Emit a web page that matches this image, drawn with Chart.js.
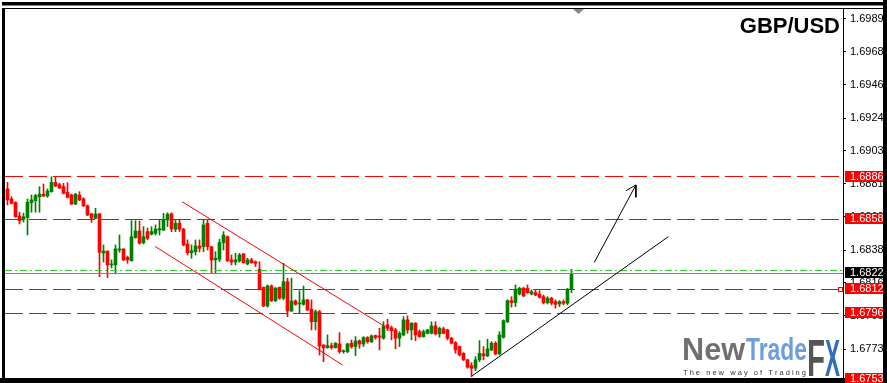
<!DOCTYPE html>
<html><head><meta charset="utf-8">
<script src="https://cdn.jsdelivr.net/npm/chart.js@4.4.1/dist/chart.umd.min.js"></script>
<style>html,body{margin:0;padding:0;background:#fff;overflow:hidden}</style>
</head><body>
<canvas id="c" width="887" height="383"></canvas>
<script>
const symbol = 'GBP/USD';
const opens = [1.68781,1.68715,1.68693,1.68604,1.68582,1.68593,1.68691,1.68704,1.68730,1.68746,
1.68735,1.68763,1.68822,1.68809,1.68796,1.68759,1.68741,1.68682,1.68741,1.68715,
1.68671,1.68617,1.68589,1.68617,1.68361,1.68374,1.68283,1.68283,1.68381,1.68388,
1.68333,1.68311,1.68462,1.68505,1.68429,1.68501,1.68484,1.68490,1.68512,1.68512,
1.68578,1.68617,1.68517,1.68556,1.68517,1.68420,1.68363,1.68370,1.68407,1.68403,
1.68556,1.68403,1.68316,1.68320,1.68429,1.68468,1.68316,1.68302,1.68309,1.68355,
1.68289,1.68316,1.68304,1.68255,1.68137,1.68014,1.68145,1.68049,1.68137,1.68065,
1.68173,1.67981,1.68047,1.68027,1.68025,1.68054,1.67993,1.67911,1.67977,1.67759,
1.67741,1.67754,1.67741,1.67765,1.67715,1.67715,1.67770,1.67748,1.67785,1.67765,
1.67807,1.67780,1.67820,1.67818,1.67803,1.67890,1.67872,1.67857,1.67803,1.67824,
1.67923,1.67857,1.67901,1.67846,1.67813,1.67835,1.67835,1.67883,1.67831,1.67864,
1.67857,1.67803,1.67774,1.67748,1.67704,1.67661,1.67623,1.67606,1.67661,1.67700,
1.67687,1.67726,1.67770,1.67700,1.67809,1.67911,1.68049,1.68036,1.68093,1.68130,
1.68130,1.68093,1.68101,1.68091,1.68075,1.68036,1.68065,1.68042,1.68027,1.68042,
1.68032,1.68124];
const highs = [1.68824,1.68730,1.68697,1.68628,1.68623,1.68715,1.68741,1.68746,1.68796,1.68813,
1.68781,1.68861,1.68861,1.68818,1.68818,1.68822,1.68748,1.68752,1.68763,1.68724,
1.68676,1.68621,1.68654,1.68621,1.68414,1.68374,1.68316,1.68414,1.68479,1.68388,
1.68342,1.68573,1.68573,1.68571,1.68534,1.68525,1.68534,1.68545,1.68578,1.68621,
1.68625,1.68625,1.68582,1.68582,1.68523,1.68447,1.68414,1.68447,1.68447,1.68578,
1.68578,1.68403,1.68370,1.68451,1.68501,1.68473,1.68348,1.68359,1.68359,1.68359,
1.68327,1.68327,1.68309,1.68304,1.68137,1.68152,1.68152,1.68137,1.68137,1.68294,
1.68196,1.68196,1.68054,1.68114,1.68145,1.68058,1.68054,1.67988,1.67985,1.67759,
1.67824,1.67770,1.67774,1.67839,1.67726,1.67770,1.67792,1.67813,1.67792,1.67813,
1.67813,1.67824,1.67824,1.67868,1.67911,1.67927,1.67883,1.67868,1.67846,1.67944,
1.67949,1.67905,1.67905,1.67857,1.67857,1.67862,1.67911,1.67911,1.67875,1.67875,
1.67862,1.67809,1.67780,1.67752,1.67708,1.67665,1.67643,1.67682,1.67787,1.67748,
1.67796,1.67780,1.67780,1.67846,1.67923,1.68054,1.68075,1.68152,1.68137,1.68137,
1.68152,1.68119,1.68119,1.68114,1.68086,1.68075,1.68071,1.68054,1.68049,1.68054,
1.68130,1.68255];
const lows = [1.68676,1.68682,1.68595,1.68551,1.68564,1.68479,1.68628,1.68628,1.68628,1.68730,
1.68726,1.68759,1.68796,1.68783,1.68748,1.68722,1.68678,1.68678,1.68704,1.68665,
1.68606,1.68562,1.68584,1.68206,1.68302,1.68200,1.68263,1.68224,1.68366,1.68311,
1.68294,1.68307,1.68458,1.68420,1.68420,1.68447,1.68479,1.68479,1.68479,1.68507,
1.68534,1.68501,1.68501,1.68501,1.68407,1.68348,1.68327,1.68348,1.68368,1.68370,
1.68381,1.68228,1.68224,1.68304,1.68381,1.68304,1.68283,1.68283,1.68300,1.68294,
1.68283,1.68294,1.68272,1.68119,1.68010,1.68006,1.68042,1.68042,1.68058,1.68054,
1.67944,1.67977,1.68019,1.67966,1.68019,1.67983,1.67857,1.67857,1.67693,1.67649,
1.67737,1.67731,1.67737,1.67704,1.67704,1.67708,1.67737,1.67689,1.67737,1.67748,
1.67770,1.67774,1.67796,1.67726,1.67796,1.67852,1.67792,1.67733,1.67748,1.67818,
1.67835,1.67792,1.67787,1.67809,1.67809,1.67831,1.67831,1.67824,1.67809,1.67831,
1.67792,1.67765,1.67704,1.67687,1.67656,1.67606,1.67551,1.67590,1.67649,1.67661,
1.67682,1.67721,1.67693,1.67693,1.67803,1.67905,1.68006,1.68010,1.68086,1.68075,
1.68097,1.68086,1.68080,1.68065,1.68027,1.68027,1.68021,1.67999,1.68010,1.68021,
1.68021,1.68101];
const closes = [1.68709,1.68687,1.68599,1.68573,1.68599,1.68693,1.68709,1.68737,1.68746,1.68735,
1.68767,1.68824,1.68800,1.68787,1.68752,1.68726,1.68682,1.68746,1.68709,1.68671,
1.68610,1.68589,1.68617,1.68366,1.68374,1.68283,1.68287,1.68388,1.68388,1.68316,
1.68316,1.68468,1.68505,1.68425,1.68468,1.68458,1.68501,1.68517,1.68521,1.68578,
1.68615,1.68519,1.68556,1.68517,1.68414,1.68363,1.68376,1.68407,1.68392,1.68545,
1.68403,1.68316,1.68327,1.68429,1.68479,1.68311,1.68302,1.68316,1.68348,1.68298,
1.68316,1.68298,1.68294,1.68124,1.68014,1.68145,1.68049,1.68130,1.68065,1.68173,
1.67981,1.68047,1.68025,1.68032,1.68054,1.67988,1.67911,1.67977,1.67752,1.67741,
1.67754,1.67741,1.67770,1.67715,1.67721,1.67765,1.67748,1.67785,1.67765,1.67807,
1.67780,1.67818,1.67807,1.67809,1.67883,1.67868,1.67852,1.67803,1.67835,1.67923,
1.67857,1.67901,1.67824,1.67813,1.67846,1.67857,1.67883,1.67831,1.67868,1.67835,
1.67803,1.67770,1.67726,1.67693,1.67661,1.67613,1.67606,1.67661,1.67704,1.67687,
1.67733,1.67770,1.67700,1.67824,1.67918,1.68049,1.68036,1.68124,1.68130,1.68080,
1.68101,1.68108,1.68086,1.68071,1.68036,1.68065,1.68032,1.68025,1.68042,1.68032,
1.68124,1.68228];
const tickValues = [1.69895,1.69680,1.69465,1.69245,1.69030,1.68815,1.68600,1.68380,1.68165,1.67950,1.67730];
const levels = [1.68861,1.68583,1.68125,1.67966,1.67535];
const markedLevel = 1.68125;
const bidPrice = 1.68228;
const askPrice = 1.68245;
const channelUpper = [[43.6,1.68698],[94.4,1.67878]];
const channelLower = [[36.9,1.68404],[83.8,1.67627]];
const trendLine = [[116.1,1.67555],[165.2,1.68468]];
const arrowShaft = [[146.7,1.68300],[157.1,1.68807]];
const arrowHead = [[154.6,1.68769],[157.1,1.68807],[157.1,1.68726]];

const X_MIN = -0.625, X_MAX = 208.875;
const Y_MIN = 1.67542, Y_MAX = 1.69960;
const GREEN = '#008000', RED = '#ff0000';

const idx = opens.map((_, i) => i);
const colors = idx.map(i => closes[i] > opens[i] ? GREEN : RED);
const pts = a => a.map(p => ({x: p[0], y: p[1]}));
const hline = v => [{x: X_MIN, y: v}, {x: X_MAX, y: v}];
const lineDs = (data, color, dash, snap) => ({
  type: 'line', data, borderColor: color, borderWidth: 1, borderDash: dash || [],
  pointRadius: 0, fill: false, tension: 0, snap: !!snap
});

const datasets = [
  lineDs(pts(arrowShaft), '#000'),
  lineDs(pts(arrowHead), '#000'),
  lineDs(pts(trendLine), '#000'),
  lineDs(pts(channelUpper), RED),
  lineDs(pts(channelLower), RED),
  ...levels.map(v => lineDs(hline(v), RED, [18, 6], true)),
  lineDs(hline(askPrice), '#33cc33', [7, 3, 2, 3], true),
  lineDs(hline(bidPrice), '#778899', null, true),
  {
    type: 'bar', data: idx.map(i => ({x: i, y: [opens[i], closes[i]]})),
    backgroundColor: colors, barThickness: 3, grouped: false, minBarLength: 1, borderWidth: 0
  },
  {
    type: 'bar', data: idx.map(i => ({x: i, y: [lows[i], highs[i]]})),
    backgroundColor: colors, barThickness: 1, grouped: false, minBarLength: 1, borderWidth: 0
  }
];

function drawScaled(ctx, text, x, base, font, targetW, fill) {
  ctx.font = font;
  const w = ctx.measureText(text).width;
  ctx.save();
  ctx.translate(x, base);
  ctx.scale(targetW / w, 1);
  ctx.fillStyle = fill;
  ctx.textAlign = 'left';
  ctx.textBaseline = 'alphabetic';
  ctx.fillText(text, 0, 0);
  ctx.restore();
}

const snapPlugin = {
  id: 'snap',
  afterDatasetsUpdate(chart) {
    chart.data.datasets.forEach((ds, i) => {
      if (!ds.snap) return;
      chart.getDatasetMeta(i).data.forEach(el => { el.y = Math.floor(el.y) + 0.5; });
    });
  }
};

const decor = {
  id: 'decor',
  beforeDraw(chart) {
    const c = chart.ctx;
    c.save(); c.fillStyle = '#fff'; c.fillRect(0, 0, chart.width, chart.height); c.restore();
  },
  afterDraw(chart) {
    const ctx = chart.ctx, ys = chart.scales.y;
    ctx.save();
    ctx.fillStyle = '#000';
    ctx.fillRect(2, 2, 885, 3);
    ctx.fillStyle = '#808080';
    ctx.fillRect(2, 5, 885, 1);
    ctx.fillStyle = '#000';
    ctx.fillRect(2, 8, 881, 1);
    ctx.fillRect(2, 8, 3, 375);
    ctx.fillRect(0, 378, 887, 5);
    ctx.fillStyle = '#7b8a99';
    ctx.beginPath(); ctx.moveTo(573, 9); ctx.lineTo(584, 9); ctx.lineTo(578.5, 14); ctx.closePath(); ctx.fill();
    const my = Math.floor(ys.getPixelForValue(markedLevel));
    ctx.strokeStyle = RED; ctx.lineWidth = 1;
    ctx.fillStyle = '#fff';
    ctx.fillRect(838.5, my - 1.5, 4, 4);
    ctx.strokeRect(838.5, my - 1.5, 4, 4);
    ctx.save();
    ctx.beginPath(); ctx.rect(844, 0, 39, 383); ctx.clip();
    ctx.font = '11px "Liberation Sans"';
    ctx.textBaseline = 'middle'; ctx.textAlign = 'left';
    const box = (v, bg) => {
      const y = ys.getPixelForValue(v);
      const t = Math.round(y - 6);
      ctx.fillStyle = bg; ctx.fillRect(845, t, 40, 11);
      ctx.fillStyle = '#fff'; ctx.fillText(v.toFixed(5), 850, t + 6);
    };
    levels.forEach(v => box(v, RED));
    box(bidPrice, '#000');
    ctx.restore();
    ctx.fillStyle = '#000';
    ctx.fillRect(883, 0, 4, 383);
    ctx.font = 'bold 22px "Liberation Sans"';
    ctx.textAlign = 'right'; ctx.textBaseline = 'alphabetic';
    ctx.fillStyle = '#000';
    ctx.fillText(symbol, 840, 33);
    let g = ctx.createLinearGradient(0, 337, 0, 360);
    g.addColorStop(0, '#707070'); g.addColorStop(1, '#1e1e1e');
    drawScaled(ctx, 'New', 682, 360, 'bold 32px "Liberation Sans"', 63, g);
    g = ctx.createLinearGradient(0, 337, 0, 360);
    g.addColorStop(0, '#6c9de0'); g.addColorStop(1, '#1d4f9e');
    drawScaled(ctx, 'Trade', 746, 360, 'bold 32px "Liberation Sans"', 61, g);
    g = ctx.createLinearGradient(0, 338, 0, 376);
    g.addColorStop(0, '#555'); g.addColorStop(1, '#222');
    drawScaled(ctx, 'F', 807, 376, 'bold 51px "Liberation Sans"', 18, g);
    g = ctx.createLinearGradient(825, 0, 840, 0);
    g.addColorStop(0, '#2f6cc4'); g.addColorStop(0.55, '#2f6cc4'); g.addColorStop(0.6, '#444'); g.addColorStop(1, '#333');
    drawScaled(ctx, 'X', 825, 376, 'bold 51px "Liberation Sans"', 15, g);
    const sub = 'The new way of Trading';
    ctx.font = '7.5px "Liberation Sans"';
    ctx.textAlign = 'left';
    ctx.fillStyle = '#333';
    const widths = [...sub].map(ch => ctx.measureText(ch).width);
    const natural = widths.reduce((a, b) => a + b, 0);
    const extra = (123 - natural) / (sub.length - 1);
    let x = 683;
    [...sub].forEach((ch, i) => { ctx.fillText(ch, x, 374.5); x += widths[i] + extra; });
    ctx.restore();
  }
};

new Chart(document.getElementById('c'), {
  type: 'bar',
  data: {datasets},
  options: {
    responsive: false,
    devicePixelRatio: 1,
    animation: false,
    events: [],
    layout: {autoPadding: false, padding: {left: 5, right: 0, top: 9, bottom: 5}},
    plugins: {legend: {display: false}, tooltip: {enabled: false}},
    scales: {
      x: {type: 'linear', min: X_MIN, max: X_MAX, display: false, offset: false, afterFit: s => { s.height = 0; }},
      y: {
        position: 'right', min: Y_MIN, max: Y_MAX,
        afterBuildTicks: s => { s.ticks = tickValues.filter(v => v >= Y_MIN && v <= Y_MAX).map(v => ({value: v})); },
        afterFit: s => { s.width = 44; s.paddingTop = 0; s.paddingBottom = 0; },
        ticks: {
          callback: v => Number(v).toFixed(5), color: '#000',
          font: {family: 'Liberation Sans', size: 11}, padding: 4, autoSkip: false, maxRotation: 0
        },
        grid: {drawOnChartArea: false, drawTicks: true, tickLength: 3, color: '#000'},
        border: {display: true, color: '#000', width: 1}
      }
    }
  },
  plugins: [snapPlugin, decor]
});
</script>
</body></html>
